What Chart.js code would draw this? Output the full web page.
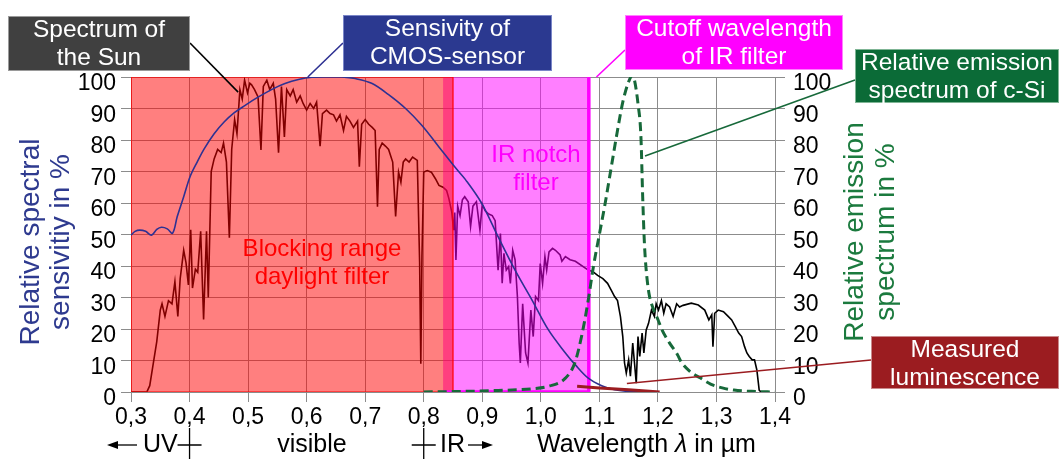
<!DOCTYPE html>
<html>
<head>
<meta charset="utf-8">
<script src="https://cdn.jsdelivr.net/npm/chart.js@4.4.0/dist/chart.umd.min.js"></script>
<style>
  html, body { margin: 0; padding: 0; background: #fff; }
</style>
</head>
<body>
<canvas id="out" width="1059" height="459"></canvas>
<script>
const FONT = '"Liberation Sans", Arial, sans-serif';

// axis ticks
const wavelengthTicks = [0.3, 0.4, 0.5, 0.6, 0.7, 0.8, 0.9, 1.0, 1.1, 1.2, 1.3, 1.4];
const percentTicks = [0, 10, 20, 30, 40, 50, 60, 70, 80, 90, 100];

// filter ranges in µm
const blockingRange = [0.3, 0.85];
const notchRange = [0.833, 1.082];

// solar spectrum at ground level, relative %
const sunWavelength = [
  0.300, 0.327, 0.332, 0.338, 0.344, 0.350, 0.353, 0.358, 0.364, 0.370,
  0.375, 0.380, 0.384, 0.390, 0.394, 0.398, 0.402, 0.405, 0.410, 0.414,
  0.419, 0.424, 0.429, 0.432, 0.437, 0.442, 0.448, 0.454, 0.458, 0.463,
  0.468, 0.472, 0.477, 0.481, 0.486, 0.490, 0.494, 0.499, 0.503, 0.506,
  0.511, 0.517, 0.522, 0.526, 0.532, 0.537, 0.543, 0.547, 0.552, 0.557,
  0.562, 0.566, 0.572, 0.577, 0.583, 0.589, 0.594, 0.600, 0.606, 0.612,
  0.617, 0.623, 0.627, 0.634, 0.640, 0.646, 0.651, 0.657, 0.663, 0.668,
  0.674, 0.680, 0.687, 0.690, 0.694, 0.700, 0.706, 0.712, 0.717, 0.721,
  0.724, 0.729, 0.735, 0.740, 0.747, 0.752, 0.757, 0.761, 0.765, 0.769,
  0.775, 0.781, 0.789, 0.793, 0.795, 0.797, 0.800, 0.806, 0.813, 0.820,
  0.826, 0.833, 0.839, 0.843, 0.848, 0.851, 0.853, 0.855, 0.858, 0.862,
  0.866, 0.870, 0.876, 0.880, 0.884, 0.890, 0.896, 0.900, 0.905, 0.911,
  0.917, 0.922, 0.927, 0.931, 0.934, 0.937, 0.941, 0.945, 0.948, 0.952,
  0.956, 0.960, 0.963, 0.965, 0.969, 0.974, 0.978, 0.983, 0.987, 0.991,
  0.996, 0.999, 1.003, 1.007, 1.010, 1.014, 1.020, 1.025, 1.033, 1.036,
  1.042, 1.050, 1.059, 1.081, 1.089, 1.097, 1.106, 1.114, 1.120, 1.126,
  1.131, 1.136, 1.140, 1.143, 1.146, 1.150, 1.153, 1.157, 1.160, 1.163,
  1.166, 1.169, 1.173, 1.176, 1.180, 1.184, 1.189, 1.194, 1.197, 1.201,
  1.206, 1.210, 1.214, 1.220, 1.226, 1.232, 1.237, 1.243, 1.257, 1.269,
  1.280, 1.287, 1.292, 1.294, 1.297, 1.303, 1.312, 1.320, 1.326, 1.332,
  1.338, 1.343, 1.348, 1.352, 1.356, 1.361, 1.365, 1.369, 1.373, 1.376
];
const sunLevel = [
  0, 0, 2, 9, 16, 26, 28, 24, 29, 28,
  35, 24, 36, 45, 41, 34, 51.5, 33, 39, 38,
  51, 23, 51, 30, 70, 74, 77, 76, 79, 73,
  49, 77, 86.5, 82, 96, 93, 99, 95, 98, 97.5,
  96, 93.7, 76.8, 97, 99, 96, 98, 93, 76, 97,
  81, 96, 94, 96, 92, 94, 91.6, 89.5, 91.6, 90,
  92, 78, 88.4, 89.5, 88.4, 88, 86, 88, 83, 87.5,
  86, 84, 86, 71.5, 85, 86.5, 85, 84, 83, 58.8,
  77, 79, 78, 77, 73, 55.7, 69.8, 66.6, 73, 74,
  73, 74.6, 73.5, 41, 9, 43, 69.8, 70.3, 69.8, 67.7,
  65.6, 65, 64, 61.4, 57, 51.4, 57, 41.9, 59, 56,
  61, 62, 60.4, 52.5, 59, 60.4, 51.4, 59.6, 57.5, 56.5,
  56, 54.4, 38.7, 50.3, 34.5, 44, 38.7, 39.8, 34.5, 45,
  42, 30.3, 15.5, 9.2, 28, 12.4, 9.2, 26, 17.6, 30.3,
  29, 40.8, 34.5, 43, 38.7, 44.5, 45.6, 45, 43.5, 41.5,
  43, 42, 41.5, 38.7, 38.2, 37, 36, 34.5, 32.4, 30.3,
  29, 23.9, 17.6, 9.2, 6, 10.2, 5, 15.5, 9.2, 2.8,
  17.6, 11.3, 18.7, 12.4, 19.7, 21.8, 26, 24, 28, 26,
  29, 25, 28, 27, 24, 28, 27, 27.5, 28.2, 27.6,
  26, 22.9, 24.5, 14.4, 25, 26, 25.5, 24, 22.9, 20.8,
  18.7, 17.6, 14.4, 12.4, 11.3, 10.2, 10.2, 7, 0.6, 0
];

// CMOS sensor sensitivity, relative %
const cmosWavelength = [
  0.300, 0.307, 0.315, 0.325, 0.335, 0.344, 0.352, 0.362, 0.371, 0.379,
  0.390, 0.401, 0.413, 0.425, 0.442, 0.459, 0.476, 0.495, 0.517, 0.540,
  0.563, 0.586, 0.609, 0.637, 0.660, 0.683, 0.711, 0.740, 0.769, 0.797,
  0.826, 0.855, 0.871, 0.899, 0.927, 0.956, 0.985, 1.013, 1.042, 1.059,
  1.081, 1.104, 1.126, 1.149, 1.200
];
const cmosSensitivity = [
  49.8, 51, 51.4, 51, 49.8, 51.6, 52.3, 51.8, 50.4, 55.7,
  62, 68.4, 73, 77.2, 82, 85.7, 88.6, 91, 93.6, 96,
  97.9, 99.2, 99.9, 100, 100, 99.5, 98, 94.4, 90, 84.6,
  77.8, 71, 67.5, 59.9, 49.3, 38.7, 29.2, 19.7, 12.4, 8.6,
  4.4, 2, 0.7, 0.2, 0
];

// c-Si emission spectrum, relative %
const siWavelength = [
  0.800, 0.870, 0.927, 0.985, 1.013, 1.042, 1.058, 1.070, 1.080, 1.090,
  1.100, 1.110, 1.120, 1.130, 1.140, 1.150, 1.157, 1.160, 1.166, 1.171,
  1.174, 1.177, 1.180, 1.185, 1.190, 1.200, 1.207, 1.220, 1.233, 1.240,
  1.255, 1.272, 1.290, 1.310, 1.330, 1.360, 1.400
];
const siEmission = [
  0, 0.2, 0.5, 1, 1.8, 4.4, 9.2, 18, 28, 40,
  50, 60, 71, 82, 92, 98.5, 100.5, 99, 91.5, 81,
  62, 47, 38.7, 31, 27.5, 23, 19.7, 15.5, 12, 9.5,
  6.5, 4.5, 2.5, 1.3, 0.6, 0.2, 0
];

// measured luminescence
const lumWavelength = [1.062, 1.100, 1.150, 1.203];
const lumLevel = [1.8, 1.3, 0.7, 0];

function toPoints(xs, ys) {
  return xs.map((x, i) => ({ x: x, y: ys[i] }));
}
function areaPoints(r) {
  return [{ x: r[0], y: 0 }, { x: r[0], y: 100 }, { x: r[1], y: 100 }, { x: r[1], y: 0 }];
}

const datasets = [
  { data: toPoints(sunWavelength, sunLevel), borderColor: '#000', borderWidth: 1.6, order: 8 },
  { data: areaPoints(notchRange), borderWidth: 0, fill: 'origin', backgroundColor: 'rgba(255,0,255,0.5)', order: 7 },
  { data: areaPoints(blockingRange), borderWidth: 0, fill: 'origin', backgroundColor: 'rgba(255,0,0,0.5)', order: 6 },
  { data: areaPoints(blockingRange).concat([{ x: blockingRange[0], y: 0 }]), borderColor: '#ff0000', borderWidth: 1.2, order: 5 },
  { data: [{ x: notchRange[0], y: 0 }, { x: notchRange[1], y: 0 }, { x: notchRange[1], y: 100 }],
    borderColor: '#ff00ff', borderWidth: 3.5, order: 4 },
  { data: toPoints(cmosWavelength, cmosSensitivity), borderColor: '#2e3192', borderWidth: 1.6,
    tension: 0.35, order: 3 },
  { data: toPoints(siWavelength, siEmission), yAxisID: 'y2', borderColor: '#17693a', borderWidth: 3,
    borderDash: [9, 5], cubicInterpolationMode: 'monotone', order: 2 },
  { data: toPoints(lumWavelength, lumLevel), borderColor: '#9b1c20', borderWidth: 3, order: 1 }
];

const callouts = [
  { lines: ['Spectrum of', 'the Sun'], box: [8, 16, 182, 55], fill: '#404040', edge: '#9a9a9a',
    from: [190, 43], at: [0.483, 95.2], line: '#000000' },
  { lines: ['Sensivity of', 'CMOS-sensor'], box: [343, 15, 209, 56], fill: '#2b3990', edge: '#7a86c8',
    from: [343, 43], at: [0.602, 100], line: '#2e3192' },
  { lines: ['Cutoff wavelength', 'of IR filter'], box: [625, 15, 218, 55], fill: '#ff00ff', edge: '#ff80ff',
    from: [625, 50], at: [1.095, 100], line: '#ff00ff' },
  { lines: ['Relative emission', 'spectrum of c-Si'], box: [855, 49, 204, 54], fill: '#0b6b37', edge: '#7fb595',
    from: [855, 80], at: [1.178, 74.9], line: '#17693a' },
  { lines: ['Measured', 'luminescence'], box: [871, 336, 188, 53], fill: '#9b1c20', edge: '#c98a8c',
    from: [871, 360], at: [1.147, 2.7], line: '#9b1c20' }
];

function arrow(ctx, x1, x2, y) {
  const dir = x2 > x1 ? 1 : -1;
  ctx.beginPath(); ctx.moveTo(x1, y); ctx.lineTo(x2 - dir * 6, y); ctx.stroke();
  ctx.beginPath(); ctx.moveTo(x2, y); ctx.lineTo(x2 - dir * 11, y - 4); ctx.lineTo(x2 - dir * 11, y + 4);
  ctx.closePath(); ctx.fill();
}
function cross(ctx, x, y) {
  ctx.beginPath();
  ctx.moveTo(x, y - 17); ctx.lineTo(x, y + 14);
  ctx.moveTo(x - 12, y); ctx.lineTo(x + 12, y);
  ctx.stroke();
}

const decor = {
  id: 'decor',
  afterDraw(chart) {
    const ctx = chart.ctx;
    const xs = chart.scales.x, ys = chart.scales.y;
    ctx.save();
    ctx.textAlign = 'center';
    ctx.textBaseline = 'middle';

    // filter labels
    ctx.font = '24px ' + FONT;
    ctx.fillStyle = '#ff0000';
    ctx.fillText('Blocking range', 322, 249);
    ctx.fillText('daylight filter', 322, 277);
    ctx.fillStyle = '#ff00ff';
    ctx.fillText('IR notch', 536, 155);
    ctx.fillText('filter', 536, 183);

    // callout boxes with leader lines
    callouts.forEach(c => {
      ctx.strokeStyle = c.line;
      ctx.lineWidth = 1.6;
      ctx.beginPath();
      ctx.moveTo(c.from[0], c.from[1]);
      ctx.lineTo(xs.getPixelForValue(c.at[0]), ys.getPixelForValue(c.at[1]));
      ctx.stroke();
      ctx.fillStyle = c.fill;
      ctx.fillRect(c.box[0], c.box[1], c.box[2], c.box[3]);
      ctx.strokeStyle = c.edge;
      ctx.lineWidth = 1;
      ctx.strokeRect(c.box[0] + 0.5, c.box[1] + 0.5, c.box[2] - 1, c.box[3] - 1);
      ctx.fillStyle = '#ffffff';
      ctx.font = '24.5px ' + FONT;
      const cx = c.box[0] + c.box[2] / 2;
      c.lines.forEach((t, i) => ctx.fillText(t, cx, c.box[1] + 14 + 28 * i));
    });

    // axis titles
    ctx.font = '28px ' + FONT;
    ctx.fillStyle = '#2e3a8f';
    [['Relative spectral', 31], ['sensivitiy in %', 61]].forEach(([t, x]) => {
      ctx.save(); ctx.translate(x, 242); ctx.rotate(-Math.PI / 2); ctx.fillText(t, 0, 0); ctx.restore();
    });
    ctx.fillStyle = '#1b7a3e';
    [['Relative emission', 855], ['spectrum in %', 886]].forEach(([t, x]) => {
      ctx.save(); ctx.translate(x, 232); ctx.rotate(-Math.PI / 2); ctx.fillText(t, 0, 0); ctx.restore();
    });

    // spectral bands under the wavelength axis
    const yb = 445;
    ctx.fillStyle = '#000';
    ctx.strokeStyle = '#000';
    ctx.lineWidth = 1.3;
    ctx.font = '25px ' + FONT;
    arrow(ctx, 137, 107, yb);
    ctx.textAlign = 'left';
    ctx.fillText('UV', 143, yb);
    cross(ctx, xs.getPixelForValue(0.4), yb);
    ctx.textAlign = 'center';
    ctx.fillText('visible', 312, yb);
    cross(ctx, xs.getPixelForValue(0.8), yb);
    ctx.textAlign = 'left';
    ctx.fillText('IR', 440, yb);
    arrow(ctx, 468, 493, yb);
    let tx = 537;
    ctx.fillText('Wavelength ', tx, yb);
    tx += ctx.measureText('Wavelength ').width;
    ctx.font = 'italic 25px ' + FONT;
    ctx.fillText('λ', tx, yb);
    tx += ctx.measureText('λ').width;
    ctx.font = '25px ' + FONT;
    ctx.fillText(' in µm', tx, yb);
    ctx.restore();
  }
};

const gridColor = '#8c8c8c';
const tickFont = { family: FONT, size: 23 };

new Chart(document.getElementById('out').getContext('2d'), {
  type: 'line',
  data: { datasets: datasets },
  plugins: [decor],
  options: {
    responsive: false,
    animation: false,
    events: [],
    layout: { padding: { top: 77, left: 0, right: 0, bottom: 0 } },
    elements: { point: { radius: 0 }, line: { tension: 0, fill: false } },
    plugins: { legend: { display: false }, tooltip: { enabled: false } },
    scales: {
      x: {
        type: 'linear', min: 0.3, max: 1.4, z: 1,
        afterBuildTicks: s => { s.ticks = wavelengthTicks.map(v => ({ value: v })); },
        afterFit: s => { s.height = 67; },
        ticks: { callback: v => v.toFixed(1).replace('.', ','), font: tickFont, color: '#000',
                 padding: 2, maxRotation: 0, autoSkip: false },
        grid: { color: gridColor, lineWidth: 1, tickLength: 10 },
        border: { display: false }
      },
      y: {
        position: 'left', min: 0, max: 100, z: 1,
        afterBuildTicks: s => { s.ticks = percentTicks.map(v => ({ value: v })); },
        afterFit: s => { s.width = 131; },
        ticks: { font: tickFont, color: '#000', padding: 5, labelOffset: 7, autoSkip: false },
        grid: { color: gridColor, lineWidth: 1, tickLength: 10 },
        border: { display: false }
      },
      y2: {
        position: 'right', min: 0, max: 100, z: 1,
        afterBuildTicks: s => { s.ticks = percentTicks.map(v => ({ value: v })); },
        afterFit: s => { s.width = 284; },
        ticks: { font: tickFont, color: '#000', padding: 8, labelOffset: 7, autoSkip: false },
        grid: { color: gridColor, lineWidth: 1, tickLength: 10, drawOnChartArea: false },
        border: { display: false }
      }
    }
  }
});
</script>
</body>
</html>
